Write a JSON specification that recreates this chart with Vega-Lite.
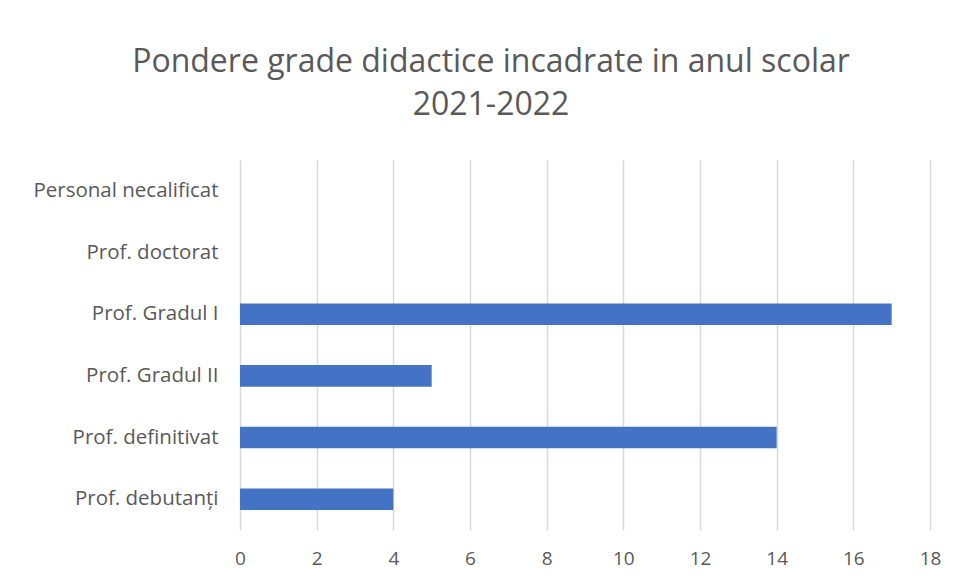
{
  "$schema": "https://vega.github.io/schema/vega-lite/v6.json",
  "width": 690,
  "height": 370,
  "autosize": {"type": "none"},
  "padding": {"left": 240, "top": 160, "right": 28, "bottom": 56},
  "background": "white",
  "title": {
    "text": ["Pondere grade didactice incadrate in anul scolar", "2021-2022"],
    "font": "Open Sans",
    "fontSize": 32,
    "fontWeight": "normal",
    "color": "#595959",
    "lineHeight": 43,
    "anchor": "middle",
    "dx": -94,
    "offset": 38
  },
  "data": {
    "values": [
      {"categorie": "Personal necalificat", "valoare": 0},
      {"categorie": "Prof. doctorat", "valoare": 0},
      {"categorie": "Prof. Gradul I", "valoare": 17},
      {"categorie": "Prof. Gradul II", "valoare": 5},
      {"categorie": "Prof. definitivat", "valoare": 14},
      {"categorie": "Prof. debutanți", "valoare": 4}
    ]
  },
  "mark": {"type": "bar", "color": "#4472C4"},
  "encoding": {
    "y": {
      "field": "categorie",
      "type": "nominal",
      "sort": null,
      "scale": {"paddingInner": 0.65, "paddingOuter": 0.325},
      "axis": {
        "title": null,
        "domain": false,
        "ticks": false,
        "labelFont": "Open Sans",
        "labelFontSize": 20.5,
        "labelColor": "#595959",
        "labelPadding": 22,
        "labelLimit": 300
      }
    },
    "x": {
      "field": "valoare",
      "type": "quantitative",
      "scale": {"domain": [0, 18], "nice": false},
      "axis": {
        "title": null,
        "values": [0, 2, 4, 6, 8, 10, 12, 14, 16, 18],
        "domain": false,
        "ticks": false,
        "grid": true,
        "gridColor": "#d9d9d9",
        "gridWidth": 1.5,
        "labelFlush": false,
        "labelFont": "Open Sans",
        "labelFontSize": 19,
        "labelColor": "#595959",
        "labelPadding": 19
      }
    }
  },
  "config": {"view": {"stroke": null}}
}
